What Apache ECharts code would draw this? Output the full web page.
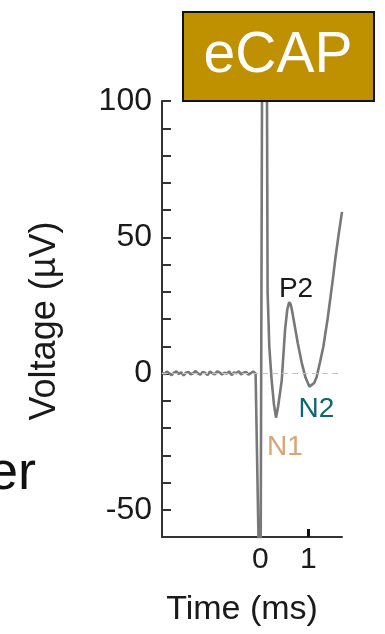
<!DOCTYPE html>
<html>
<head>
<meta charset="utf-8">
<script src="https://cdn.jsdelivr.net/npm/echarts@6/dist/echarts.min.js"></script>
<style>
html,body{margin:0;padding:0;background:#fff;}
#chart{width:385px;height:634px;}
</style>
</head>
<body>
<div id="chart"></div>
<script>
// Baseline (pre-stimulus) segment: time (ms) and voltage (µV)
var baseTime = [-2.05,-2.00,-1.95,-1.90,-1.85,-1.80,-1.75,-1.70,-1.65,-1.60,-1.55,-1.50,-1.45,-1.40,-1.35,-1.30,-1.25,-1.20,-1.15,-1.10,-1.05,-1.00,-0.95,-0.90,-0.85,-0.80,-0.75,-0.70,-0.65,-0.60,-0.55,-0.50,-0.45,-0.40,-0.35,-0.30,-0.25,-0.20,-0.15,-0.10];
var baseVolt = [0.4,-0.3,0.7,0.1,-0.6,0.3,0.8,-0.2,0.4,-0.7,0.3,0.6,-0.3,0.1,0.9,0.0,-0.4,0.6,0.2,-0.6,0.7,0.1,-0.3,0.8,0.4,-0.4,0.3,0.0,0.7,-0.6,0.4,0.1,0.8,-0.3,0.3,0.6,-0.4,0.1,0.7,0.0];
// Stimulus artifact and evoked response
var respTime = [-0.09,0.00,0.02,0.04,0.13,0.15,0.186,0.235,0.28,0.325,0.37,0.444,0.513,0.56,0.60,0.63,0.66,0.72,0.78,0.86,0.94,1.02,1.06,1.12,1.17,1.24,1.31,1.40,1.506,1.56,1.63,1.70];
var respVolt = [0.2,-100,-100,140,140,30,9.6,-2.6,-11,-16.2,-12,-2.6,15.8,23.5,26.2,25.4,23,17,11,4,-1.5,-4.8,-5.2,-3.5,-1.4,4,9.7,20,34.2,42,51,59.3];
// Axis ticks / labels
var xLabelValues = [0, 1];
var yLabelValues = [-50, 0, 50, 100];
var xRange = [-2.05, 1.7];
var yRange = [-60, 100];
var peakLabels = ['N1', 'P2', 'N2'];

var FONT = "'Liberation Sans', Arial, sans-serif";
var data = baseTime.map(function (t, i) { return [t, baseVolt[i]]; })
  .concat(respTime.map(function (t, i) { return [t, respVolt[i]]; }));

var chart = echarts.init(document.getElementById('chart'), null, {renderer: 'canvas'});
chart.setOption({
  animation: false,
  backgroundColor: '#ffffff',
  grid: {left: 162, right: 43, top: 101, bottom: 97, containLabel: false},
  xAxis: {
    type: 'value', min: xRange[0], max: xRange[1],
    splitLine: {show: false},
    axisLine: {onZero: false, lineStyle: {color: '#333', width: 2}},
    axisTick: {inside: true, length: 8, customValues: xLabelValues, lineStyle: {color: '#111', width: 3}},
    axisLabel: {customValues: xLabelValues, margin: 8, fontSize: 30, color: '#1a1a1a', fontFamily: FONT}
  },
  yAxis: {
    type: 'value', min: yRange[0], max: yRange[1], interval: 10,
    splitLine: {show: false},
    axisLine: {onZero: false, lineStyle: {color: '#333', width: 2}},
    axisTick: {inside: true, length: 9, lineStyle: {color: '#333', width: 2}},
    axisLabel: {customValues: yLabelValues, margin: 10, fontSize: 32, color: '#1a1a1a', fontFamily: FONT}
  },
  series: [{
    type: 'line', data: data, showSymbol: false, clip: true,
    lineStyle: {color: '#787878', width: 2.6},
    markLine: {
      silent: true, symbol: ['none', 'none'], label: {show: false},
      lineStyle: {color: '#c4c4c4', type: [6, 4], width: 1},
      data: [{yAxis: 0}]
    },
    z: 3
  }],
  graphic: [
    {type: 'rect', shape: {x: 183, y: 12, width: 191, height: 89}, style: {fill: '#BF9000', stroke: '#111', lineWidth: 2}, z: 10},
    {type: 'text', x: 278, y: 56, z: 11, style: {text: 'eCAP', fill: '#fff', font: '57px ' + FONT, align: 'center', verticalAlign: 'middle'}},
    {type: 'text', x: 36, y: 474, style: {text: 'er', fill: '#111', font: '54px ' + FONT, align: 'right', verticalAlign: 'middle'}},
    {type: 'text', x: 45.5, y: 321, rotation: Math.PI / 2, style: {text: 'Voltage (µV)', fill: '#1a1a1a', font: '36px ' + FONT, align: 'center', verticalAlign: 'middle'}},
    {type: 'text', x: 242, y: 610, style: {text: 'Time (ms)', fill: '#1a1a1a', font: '34px ' + FONT, align: 'center', verticalAlign: 'middle'}},
    {type: 'text', x: 285, y: 447.5, style: {text: peakLabels[0], fill: '#D6A676', font: '28px ' + FONT, align: 'center', verticalAlign: 'middle'}},
    {type: 'text', x: 296, y: 289, style: {text: peakLabels[1], fill: '#1a1a1a', font: '28px ' + FONT, align: 'center', verticalAlign: 'middle'}},
    {type: 'text', x: 316.5, y: 409, style: {text: peakLabels[2], fill: '#0E6670', font: '28px ' + FONT, align: 'center', verticalAlign: 'middle'}}
  ]
});
</script>
</body>
</html>
